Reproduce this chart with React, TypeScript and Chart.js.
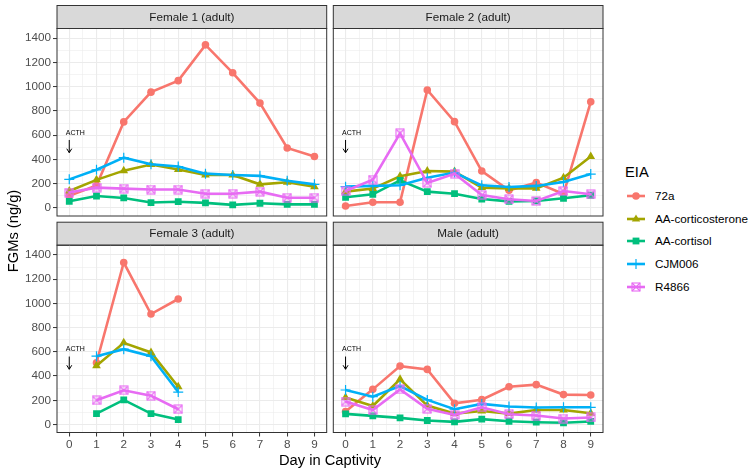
import React, { useEffect, useRef } from "react";
import { Chart, registerables } from "chart.js";

Chart.register(...registerables);

// ---- data ----
const days = [0, 1, 2, 3, 4, 5, 6, 7, 8, 9];
const assays = ["72a", "AA-corticosterone", "AA-cortisol", "CJM006", "R4866"];
const yTicks = [0, 200, 400, 600, 800, 1000, 1200, 1400];

const female1_72a = [100, 185, 710, 955, 1050, 1345, 1115, 865, 495, 425];
const female1_corticosterone = [140, 232, 308, 358, 318, 272, 272, 195, 212, 176];
const female1_cortisol = [55, 99, 83, 45, 52, 42, 26, 39, 30, 30];
const female1_cjm006 = [236, 315, 415, 360, 342, 283, 272, 265, 225, 195];
const female1_r4866 = [127, 168, 160, 152, 152, 118, 118, 135, 85, 85];

const female2_72a = [16, 47, 47, 973, 712, 305, 146, 209, 115, 875];
const female2_corticosterone = [135, 160, 261, 305, 300, 168, 162, 162, 250, 424];
const female2_cortisol = [88, 113, 228, 135, 118, 74, 55, 58, 80, 105];
const female2_cjm006 = [176, 182, 187, 250, 292, 187, 173, 182, 215, 280];
const female2_r4866 = [140, 234, 616, 206, 283, 107, 72, 58, 140, 113];

const female3_72a = [null, 510, 1337, 912, 1036, null, null, null, null, null];
const female3_corticosterone = [null, 485, 674, 595, 312, null, null, null, null, null];
const female3_cortisol = [null, 90, 203, 90, 41, null, null, null, null, null];
const female3_cjm006 = [null, 564, 622, 564, 268, null, null, null, null, null];
const female3_r4866 = [null, 200, 282, 238, 126, null, null, null, null, null];

const male_72a = [107, 290, 482, 455, 175, 205, 312, 329, 247, 244];
const male_corticosterone = [222, 153, 373, 156, 90, 112, 90, 120, 120, 93];
const male_cortisol = [88, 71, 55, 33, 22, 44, 27, 19, 14, 25];
const male_cjm006 = [285, 230, 318, 203, 126, 170, 148, 140, 142, 142];
const male_r4866 = [189, 120, 290, 129, 79, 142, 85, 74, 49, 58];

const panelTitles = ["Female 1 (adult)", "Female 2 (adult)", "Female 3 (adult)", "Male (adult)"];
const panelSeries = [
  [female1_72a, female1_corticosterone, female1_cortisol, female1_cjm006, female1_r4866],
  [female2_72a, female2_corticosterone, female2_cortisol, female2_cjm006, female2_r4866],
  [female3_72a, female3_corticosterone, female3_cortisol, female3_cjm006, female3_r4866],
  [male_72a, male_corticosterone, male_cortisol, male_cjm006, male_r4866],
];

// ACTH injection note (day, value)
const acthLabel = { x: 0.22, y: 619 };
const acthArrow = { x: 0, top: 561, bottom: 456 };

// ---- styling ----
const colours = ["#F8766D", "#A3A500", "#00BF7D", "#00B0F6", "#E76BF3"];
const FONT = "'Liberation Sans', Arial, sans-serif";

// canvas box + chart-area insets for each facet
const boxes = [
  { left: 0, top: 0, width: 330, height: 218, l: 57, t: 28.5, r: 3.3, b: 2, showY: true, showX: false },
  { left: 330, top: 0, width: 280, height: 218, l: 3.3, t: 28.5, r: 7, b: 2, showY: false, showX: false },
  { left: 0, top: 218, width: 330, height: 256, l: 57, t: 27.2, r: 3.3, b: 41.5, showY: true, showX: true },
  { left: 330, top: 218, width: 280, height: 256, l: 3.3, t: 27.2, r: 7, b: 41.5, showY: false, showX: true },
];

function crossedSquare(colour: string, size = 10) {
  const c = document.createElement("canvas");
  c.width = size;
  c.height = size;
  const ctx = c.getContext("2d")!;
  ctx.strokeStyle = colour;
  ctx.lineWidth = 1.1;
  const a = 1, b = size - 1;
  ctx.strokeRect(a, a, b - a, b - a);
  ctx.beginPath();
  ctx.moveTo(a, a);
  ctx.lineTo(b, b);
  ctx.moveTo(b, a);
  ctx.lineTo(a, b);
  ctx.stroke();
  return c;
}

function drawMarker(ctx: CanvasRenderingContext2D, i: number, x: number, y: number) {
  const col = colours[i];
  ctx.fillStyle = col;
  ctx.strokeStyle = col;
  if (i === 0) {
    ctx.beginPath();
    ctx.arc(x, y, 3.8, 0, Math.PI * 2);
    ctx.fill();
  } else if (i === 1) {
    ctx.beginPath();
    ctx.moveTo(x, y - 4.6);
    ctx.lineTo(x + 4.2, y + 2.6);
    ctx.lineTo(x - 4.2, y + 2.6);
    ctx.closePath();
    ctx.fill();
  } else if (i === 2) {
    ctx.fillRect(x - 3.4, y - 3.4, 6.8, 6.8);
  } else if (i === 3) {
    ctx.lineWidth = 1.2;
    ctx.beginPath();
    ctx.moveTo(x - 5, y);
    ctx.lineTo(x + 5, y);
    ctx.moveTo(x, y - 5);
    ctx.lineTo(x, y + 5);
    ctx.stroke();
  } else {
    ctx.drawImage(crossedSquare(col), x - 5, y - 5);
  }
}

const facetPlugin = {
  id: "facet",
  beforeDraw(chart: any, _args: any, opts: any) {
    const { ctx, chartArea: a } = chart;
    ctx.save();
    ctx.fillStyle = "#FFFFFF";
    ctx.fillRect(a.left, a.top, a.right - a.left, a.bottom - a.top);
    const h = 23;
    ctx.fillStyle = "#D9D9D9";
    ctx.fillRect(a.left, a.top - h, a.right - a.left, h);
    ctx.strokeStyle = "#333333";
    ctx.lineWidth = 1;
    ctx.strokeRect(a.left, a.top - h, a.right - a.left, h);
    ctx.fillStyle = "#1A1A1A";
    ctx.font = `11.7px ${FONT}`;
    ctx.textAlign = "center";
    ctx.textBaseline = "middle";
    ctx.fillText(opts.title, (a.left + a.right) / 2, a.top - h / 2 + 0.5);
    ctx.restore();
  },
  afterDatasetsDraw(chart: any) {
    const { ctx, chartArea: a, scales } = chart;
    const xs = scales.x, ys = scales.y;
    ctx.save();
    ctx.fillStyle = "#000000";
    ctx.font = `7px ${FONT}`;
    ctx.textAlign = "center";
    ctx.textBaseline = "middle";
    ctx.fillText("ACTH", xs.getPixelForValue(acthLabel.x), ys.getPixelForValue(acthLabel.y));
    const ax = xs.getPixelForValue(acthArrow.x);
    const top = ys.getPixelForValue(acthArrow.top);
    const bot = ys.getPixelForValue(acthArrow.bottom);
    ctx.strokeStyle = "#000000";
    ctx.lineWidth = 1;
    ctx.beginPath();
    ctx.moveTo(ax, top);
    ctx.lineTo(ax, bot);
    ctx.moveTo(ax - 2.5, bot - 4);
    ctx.lineTo(ax, bot);
    ctx.lineTo(ax + 2.5, bot - 4);
    ctx.stroke();
    ctx.strokeStyle = "#333333";
    ctx.strokeRect(a.left, a.top, a.right - a.left, a.bottom - a.top);
    ctx.restore();
  },
};

const yGrid = yTicks.flatMap((v, i) => (i < yTicks.length - 1 ? [v, v + 100] : [v]));
const xGrid = days.flatMap((d, i) => (i < days.length - 1 ? [d, d + 0.5] : [d]));
const isMajorY = (v: number) => yTicks.includes(v);
const isMajorX = (v: number) => days.includes(v);

const noScalePadding = (s: any) => {
  s.paddingLeft = 0;
  s.paddingRight = 0;
  s.paddingTop = 0;
  s.paddingBottom = 0;
};

const Facet: React.FC<{ index: number }> = ({ index }) => {
  const ref = useRef<HTMLCanvasElement>(null);
  const box = boxes[index];

  useEffect(() => {
    if (!ref.current) return;
    const series = panelSeries[index];
    const chart = new Chart(ref.current, {
      type: "line",
      data: {
        datasets: assays.map((name, i) => ({
          label: name,
          data: days.map((d, j) => ({ x: d, y: series[i][j] })) as any,
          borderColor: colours[i],
          backgroundColor: colours[i],
          borderWidth: 2.6,
          pointStyle: (i === 0 ? "circle" : i === 1 ? "triangle" : i === 2 ? "rect" : i === 3 ? "cross" : crossedSquare(colours[i])) as any,
          pointRadius: [3.8, 5, 4.8, 5, 5][i],
          pointBorderWidth: i === 3 ? 1.2 : 0,
          pointBackgroundColor: colours[i],
          pointBorderColor: colours[i],
          spanGaps: false,
          order: assays.length - i,
        })),
      },
      options: {
        responsive: false,
        animation: false,
        layout: { autoPadding: false, padding: { top: box.t, right: box.r, bottom: 0, left: 0 } },
        plugins: {
          legend: { display: false },
          tooltip: { enabled: false },
          facet: { title: panelTitles[index] },
        } as any,
        scales: {
          x: {
            type: "linear",
            min: -0.45,
            max: 9.45,
            afterBuildTicks: (s: any) => {
              s.ticks = xGrid.map((v) => ({ value: v }));
            },
            afterFit: (s: any) => {
              s.height = box.b;
              noScalePadding(s);
            },
            border: { display: false },
            grid: {
              color: "#EBEBEB",
              lineWidth: (c: any) => (c.tick && isMajorX(c.tick.value) ? 1.1 : 0.55),
              drawTicks: box.showX,
              tickLength: 4,
              tickColor: (c: any) => (c.tick && isMajorX(c.tick.value) ? "#333333" : "rgba(0,0,0,0)"),
              tickWidth: 1,
            },
            ticks: {
              display: box.showX,
              autoSkip: false,
              maxRotation: 0,
              padding: 1,
              color: "#4D4D4D",
              font: { family: FONT, size: 11.7 },
              callback: (v: any) => (isMajorX(Number(v)) ? String(v) : ""),
            },
          },
          y: {
            type: "linear",
            min: -66,
            max: 1480,
            afterBuildTicks: (s: any) => {
              s.ticks = yGrid.map((v) => ({ value: v }));
            },
            afterFit: (s: any) => {
              s.width = box.l;
              noScalePadding(s);
            },
            border: { display: false },
            grid: {
              color: "#EBEBEB",
              lineWidth: (c: any) => (c.tick && isMajorY(c.tick.value) ? 1.1 : 0.55),
              drawTicks: box.showY,
              tickLength: 4,
              tickColor: (c: any) => (c.tick && isMajorY(c.tick.value) ? "#333333" : "rgba(0,0,0,0)"),
              tickWidth: 1,
            },
            ticks: {
              display: box.showY,
              autoSkip: false,
              padding: 2,
              color: "#4D4D4D",
              font: { family: FONT, size: 11.7 },
              callback: (v: any) => (isMajorY(Number(v)) ? String(v) : ""),
            },
          },
        },
      },
      plugins: [facetPlugin as any],
    });
    return () => chart.destroy();
  }, [index]);

  return (
    <canvas
      ref={ref}
      width={box.width}
      height={box.height}
      style={{ position: "absolute", left: box.left, top: box.top, width: box.width, height: box.height }}
    />
  );
};

const LegendKey: React.FC<{ index: number }> = ({ index }) => {
  const ref = useRef<HTMLCanvasElement>(null);
  useEffect(() => {
    const ctx = ref.current?.getContext("2d");
    if (!ctx) return;
    ctx.clearRect(0, 0, 20, 14);
    ctx.strokeStyle = colours[index];
    ctx.lineWidth = 2.6;
    ctx.beginPath();
    ctx.moveTo(1, 7);
    ctx.lineTo(19, 7);
    ctx.stroke();
    drawMarker(ctx, index, 10, 7);
  }, [index]);
  return <canvas ref={ref} width={20} height={14} style={{ position: "absolute", left: 0, top: -7 }} />;
};

export default function App() {
  return (
    <div
      style={{
        position: "absolute",
        left: 0,
        top: 0,
        width: 751,
        height: 474,
        background: "#FFFFFF",
        fontFamily: FONT,
        overflow: "hidden",
      }}
    >
      {boxes.map((_, i) => (
        <Facet key={i} index={i} />
      ))}
      <div
        style={{
          position: "absolute",
          left: 13 - 60,
          top: 230.5 - 9,
          width: 120,
          height: 18,
          lineHeight: "18px",
          textAlign: "center",
          fontSize: 14.7,
          color: "#000",
          transform: "rotate(-90deg)",
          whiteSpace: "nowrap",
        }}
      >
        FGMs (ng/g)
      </div>
      <div
        style={{
          position: "absolute",
          left: 230,
          top: 451,
          width: 200,
          lineHeight: "18px",
          textAlign: "center",
          fontSize: 14.7,
          color: "#000",
          whiteSpace: "nowrap",
        }}
      >
        Day in Captivity
      </div>
      <div
        style={{ position: "absolute", left: 625, top: 162.5, lineHeight: "18px", fontSize: 14.7, color: "#000" }}
      >
        EIA
      </div>
      {assays.map((name, i) => (
        <div key={name} style={{ position: "absolute", left: 626, top: 196 + i * 22.7, width: 120, height: 0 }}>
          <LegendKey index={i} />
          <div
            style={{
              position: "absolute",
              left: 29,
              top: -8,
              lineHeight: "16px",
              fontSize: 11.7,
              color: "#000",
              whiteSpace: "nowrap",
            }}
          >
            {name}
          </div>
        </div>
      ))}
    </div>
  );
}
